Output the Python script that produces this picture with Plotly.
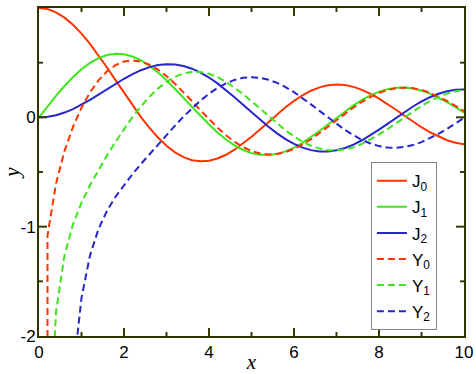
import plotly.graph_objects as go

# sample points (x = 0 .. 10, step 0.2)
x_vals = [0.0, 0.2, 0.4, 0.6, 0.8, 1.0, 1.2, 1.4, 1.6, 1.8,
          2.0, 2.2, 2.4, 2.6, 2.8, 3.0, 3.2, 3.4, 3.6, 3.8,
          4.0, 4.2, 4.4, 4.6, 4.8, 5.0, 5.2, 5.4, 5.6, 5.8,
          6.0, 6.2, 6.4, 6.6, 6.8, 7.0, 7.2, 7.4, 7.6, 7.8,
          8.0, 8.2, 8.4, 8.6, 8.8, 9.0, 9.2, 9.4, 9.6, 9.8, 10.0]

J0 = [1.0000, 0.9900, 0.9604, 0.9120, 0.8463, 0.7652, 0.6711, 0.5669, 0.4554, 0.3400,
      0.2239, 0.1104, 0.0025, -0.0968, -0.1850, -0.2601, -0.3202, -0.3643, -0.3918, -0.4026,
      -0.3971, -0.3766, -0.3423, -0.2961, -0.2404, -0.1776, -0.1103, -0.0412, 0.0270, 0.0917,
      0.1506, 0.2017, 0.2433, 0.2740, 0.2931, 0.3001, 0.2951, 0.2786, 0.2516, 0.2154,
      0.1717, 0.1222, 0.0692, 0.0147, -0.0392, -0.0903, -0.1367, -0.1768, -0.2093, -0.2330, -0.2459]

J1 = [0.0000, 0.0995, 0.1960, 0.2867, 0.3688, 0.4401, 0.4983, 0.5419, 0.5699, 0.5815,
      0.5767, 0.5560, 0.5202, 0.4708, 0.4097, 0.3391, 0.2613, 0.1792, 0.0955, 0.0128,
      -0.0660, -0.1386, -0.2028, -0.2566, -0.2985, -0.3276, -0.3432, -0.3453, -0.3343, -0.3110,
      -0.2767, -0.2329, -0.1816, -0.1250, -0.0652, -0.0047, 0.0543, 0.1096, 0.1592, 0.2014,
      0.2346, 0.2580, 0.2708, 0.2728, 0.2641, 0.2453, 0.2174, 0.1816, 0.1395, 0.0928, 0.0435]

J2 = [0.0000, 0.0050, 0.0197, 0.0437, 0.0758, 0.1149, 0.1593, 0.2074, 0.2570, 0.3061,
      0.3528, 0.3951, 0.4310, 0.4590, 0.4777, 0.4861, 0.4835, 0.4697, 0.4448, 0.4093,
      0.3641, 0.3105, 0.2501, 0.1846, 0.1161, 0.0466, -0.0217, -0.0867, -0.1464, -0.1990,
      -0.2429, -0.2769, -0.3001, -0.3119, -0.3123, -0.3014, -0.2800, -0.2490, -0.2097, -0.1638,
      -0.1130, -0.0593, -0.0047, 0.0487, 0.0992, 0.1448, 0.1840, 0.2154, 0.2383, 0.2519, 0.2546]

# Y_n(0) is -infinity; a large negative stand-in is used for the first sample
Y0 = [-1000.0, -1.0811, -0.6060, -0.3085, -0.0868, 0.0883, 0.2281, 0.3379, 0.4205, 0.4772,
      0.5104, 0.5208, 0.5102, 0.4813, 0.4359, 0.3769, 0.3070, 0.2296, 0.1477, 0.0645,
      -0.0169, -0.0937, -0.1633, -0.2233, -0.2723, -0.3085, -0.3312, -0.3400, -0.3353, -0.3177,
      -0.2882, -0.2483, -0.1999, -0.1454, -0.0864, -0.0260, 0.0339, 0.0907, 0.1423, 0.1872,
      0.2235, 0.2501, 0.2662, 0.2715, 0.2659, 0.2499, 0.2245, 0.1907, 0.1503, 0.1045, 0.0557]

Y1 = [-1000.0, -3.3238, -1.7809, -1.2604, -0.9781, -0.7812, -0.6211, -0.4791, -0.3476, -0.2237,
      -0.1070, 0.0015, 0.1005, 0.1884, 0.2635, 0.3247, 0.3707, 0.4010, 0.4154, 0.4141,
      0.3979, 0.3680, 0.3253, 0.2731, 0.2136, 0.1479, 0.0792, 0.0101, -0.0567, -0.1192,
      -0.1750, -0.2223, -0.2596, -0.2858, -0.3002, -0.3027, -0.2934, -0.2731, -0.2429, -0.2039,
      -0.1581, -0.1072, -0.0535, 0.0009, 0.0543, 0.1043, 0.1491, 0.1872, 0.2171, 0.2379, 0.2490]

Y2 = [-1000.0, -32.157, -8.2985, -3.8928, -2.3585, -1.6507, -1.2633, -1.0223, -0.8550, -0.7258,
      -0.6174, -0.5194, -0.4265, -0.3364, -0.2477, -0.1604, -0.0753, 0.0063, 0.0831, 0.1535,
      0.2159, 0.2689, 0.3112, 0.3420, 0.3613, 0.3677, 0.3617, 0.3437, 0.3151, 0.2766,
      0.2299, 0.1766, 0.1188, 0.0588, -0.0019, -0.0605, -0.1154, -0.1645, -0.2062, -0.2395,
      -0.2630, -0.2763, -0.2789, -0.2713, -0.2536, -0.2267, -0.1921, -0.1509, -0.1051, -0.0560, -0.0059]

x_ticks = [0, 2, 4, 6, 8, 10]
x_ticktext = ["0", "2", "4", "6", "8", "10"]
x_minor = [1, 3, 5, 7, 9]
y_ticks = [-2, -1, 0, 1]
y_ticktext = ["-2", "-1", "0", "1"]
y_minor = [-1.5, -0.5, 0.5]
x_range = [0, 10]
y_range = [-2, 1]

names = ["J<sub>0</sub>", "J<sub>1</sub>", "J<sub>2</sub>",
         "Y<sub>0</sub>", "Y<sub>1</sub>", "Y<sub>2</sub>"]
series = [J0, J1, J2, Y0, Y1, Y2]

RED = "#ff3300"
GREEN = "#3de61a"
BLUE = "#2626cc"
colors = [RED, GREEN, BLUE, RED, GREEN, BLUE]
dashes = ["solid", "solid", "solid", "7px,4px", "7px,4px", "7px,4px"]

W, H = 476, 374
M = dict(l=39, r=12, t=8, b=38)
plot_w = W - M["l"] - M["r"]
plot_h = H - M["t"] - M["b"]

fig = go.Figure()
for i, (nm, ys) in enumerate(zip(names, series)):
    fig.add_trace(go.Scatter(
        x=x_vals, y=ys, mode="lines", name=nm,
        legendgroup="g%d" % i,
        line=dict(color=colors[i], width=2, dash=dashes[i]),
    ))

AX = "#333300"
TK = "#3a3a00"
tickfont = dict(family="Liberation Sans, Arial, sans-serif", size=17, color="black")
titlefont = dict(family="Liberation Serif, Times New Roman, serif", size=21, color="black")

# tick marks inside the frame on all four sides (major 8 px, minor 4 px),
# converted from pixel lengths to axis units
px_x = (x_range[1] - x_range[0]) / plot_w
px_y = (y_range[1] - y_range[0]) / plot_h
tx, ty = [], []
for vals, ln in ((x_ticks, 8), (x_minor, 4)):
    for v in vals:
        if v in x_range:
            continue
        tx += [v, v, None, v, v, None]
        ty += [y_range[0], y_range[0] + ln * px_y, None,
               y_range[1], y_range[1] - ln * px_y, None]
for vals, ln in ((y_ticks, 8), (y_minor, 4)):
    for v in vals:
        if v in y_range:
            continue
        tx += [x_range[0], x_range[0] + ln * px_x, None,
               x_range[1], x_range[1] - ln * px_x, None]
        ty += [v, v, None, v, v, None]
fig.add_trace(go.Scatter(x=tx, y=ty, mode="lines", showlegend=False,
                         hoverinfo="skip", line=dict(color=TK, width=2)))

common = dict(showgrid=False, zeroline=False, automargin=False,
              showline=True, linecolor=AX, linewidth=2, mirror=True, ticks="")

fig.update_layout(
    width=W, height=H,
    margin=dict(autoexpand=False, **M),
    paper_bgcolor="white", plot_bgcolor="white",
    showlegend=True,
    legend=dict(
        x=0.781, y=0.53, xanchor="left", yanchor="top",
        bgcolor="white", bordercolor="#888888", borderwidth=1,
        font=dict(family="Liberation Sans, Arial, sans-serif", size=17, color="black"),
        tracegroupgap=1, itemwidth=30,
    ),
    xaxis=dict(
        range=x_range, tickmode="array", tickvals=x_ticks, ticktext=x_ticktext,
        tickfont=tickfont,
        title=dict(text="<i>x</i>", font=titlefont, standoff=0),
        **common,
    ),
    yaxis=dict(
        range=y_range, tickmode="array", tickvals=y_ticks, ticktext=y_ticktext,
        tickfont=tickfont, ticklabelstandoff=-2,
        title=dict(text="<i>y</i>", font=titlefont, standoff=8),
        **common,
    ),
)

fig.write_html("out.html", config={"displayModeBar": False},
               post_script="document.body.style.margin='0';")
